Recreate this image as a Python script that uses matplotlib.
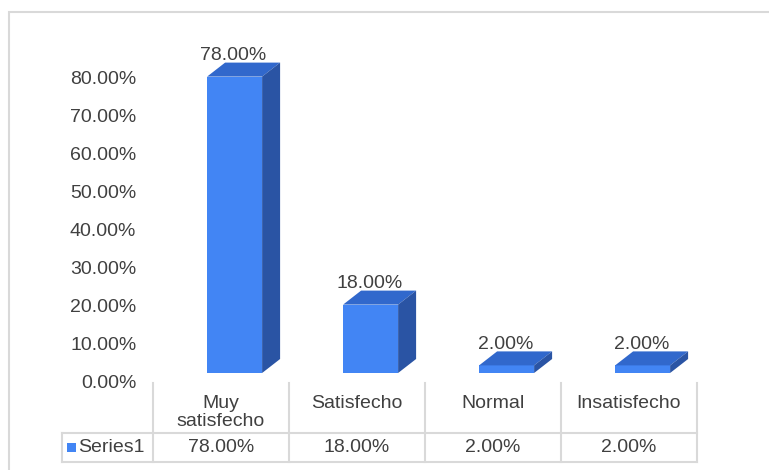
import matplotlib.pyplot as plt
from matplotlib.patches import Polygon, Rectangle

plt.rcParams['font.family'] = ['Liberation Sans', 'DejaVu Sans']

categories = ['Muy\nsatisfecho', 'Satisfecho', 'Normal', 'Insatisfecho']
values = [78.0, 18.0, 2.0, 2.0]
series_name = 'Series1'
yticks = [0, 10, 20, 30, 40, 50, 60, 70, 80]

W, H = 769, 470
fig = plt.figure(figsize=(W / 100, H / 100), dpi=100)

text_col = '#404040'
line_col = '#d9d9d9'
front_col = '#4285f4'
top_col = '#3168cc'
side_col = '#2a54a4'
fs = 14


def px(x0, y0, x1, y1):
    # pixel box (top-left origin) -> figure fraction
    return [x0 / W, 1 - y1 / H, (x1 - x0) / W, (y1 - y0) / H]


# outer chart border
fig.patches.append(Rectangle((9 / W, -0.1), 1.2, 1 - 12 / H + 0.1, transform=fig.transFigure,
                             fill=False, edgecolor=line_col, linewidth=1.5))

# main plot: x in category units, y in percent
ppu_y = 3.8
y_bot, y_top = (382 - 383) / ppu_y, (382 - 40) / ppu_y
ax = fig.add_axes(px(153, 40, 697, 383))
ax.set_xlim(-0.5, 3.5)
ax.set_ylim(y_bot, y_top)
for s in ax.spines.values():
    s.set_visible(False)
ax.set_xticks([])
ax.set_yticks(yticks)
ax.set_yticklabels([f'{t:.2f}%' for t in yticks], fontsize=fs, color=text_col)
ax.tick_params(axis='y', length=0, pad=12)

base = 9 / ppu_y          # front floor sits below back plane
bar_w = 55 / 136
off = 0.1
dx = 18 / 136
dy = 14 / ppu_y
x = range(len(categories))
bars = ax.bar([i + off for i in x], values, bar_w, bottom=base, color=front_col, zorder=2)
for rect, v in zip(bars, values):
    x0 = rect.get_x()
    x1 = x0 + rect.get_width()
    yb = rect.get_y()
    yt = yb + rect.get_height()
    ax.add_patch(Polygon([(x0, yt), (x1, yt), (x1 + dx, yt + dy), (x0 + dx, yt + dy)],
                         closed=True, facecolor=top_col, edgecolor='none', zorder=2))
    ax.add_patch(Polygon([(x1, yb), (x1 + dx, yb + dy), (x1 + dx, yt + dy), (x1, yt)],
                         closed=True, facecolor=side_col, edgecolor='none', zorder=2))
    ax.text(x0 + rect.get_width() / 2 - 0.01, v + 7.8, f'{v:.2f}%', ha='center', va='center',
            fontsize=fs, color=text_col, zorder=3)

# data table below
tax = fig.add_axes(px(62, 383, 697, 462))
x_left = -0.5 - 91 / 136
tax.set_xlim(x_left, 3.5)
tax.set_ylim(0, 79)
tax.axis('off')
row_y = 29
lw = 1.5
for i in range(len(categories) + 1):
    tax.plot([i - 0.5, i - 0.5], [0, 79], color=line_col, lw=lw, clip_on=False)
tax.plot([x_left, 3.5], [row_y, row_y], color=line_col, lw=lw, clip_on=False)
tax.plot([x_left, 3.5], [0, 0], color=line_col, lw=lw, clip_on=False)
tax.plot([x_left, x_left], [0, row_y], color=line_col, lw=lw, clip_on=False)
for i, (c, v) in enumerate(zip(categories, values)):
    tax.text(i, 67, c, ha='center', va='top', fontsize=fs, color=text_col, linespacing=1.05)
    tax.text(i, row_y / 2, f'{v:.2f}%', ha='center', va='center', fontsize=fs, color=text_col)
tax.add_patch(Rectangle((x_left + 5 / 136, row_y / 2 - 4.5), 9 / 136, 9, facecolor=front_col,
                        edgecolor='none', clip_on=False))
tax.text(x_left + 16 / 136, row_y / 2, series_name, ha='left', va='center',
         fontsize=fs, color=text_col)

fig.savefig('out.png', dpi=100)
